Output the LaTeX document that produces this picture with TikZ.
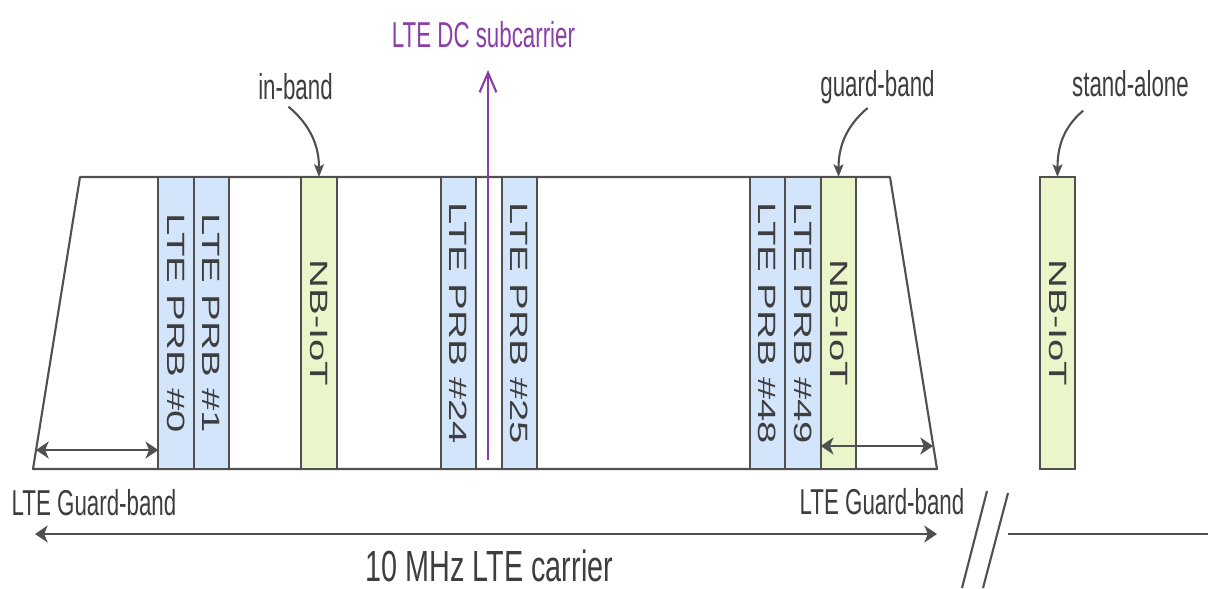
\documentclass[tikz,border=0pt]{standalone}
\usepackage{fontspec}
\setmainfont{Liberation Sans}
\usepackage{graphicx}
\usetikzlibrary{
  arrows.meta,
  positioning
}

\definecolor{linegray}{HTML}{505050}
\definecolor{textgray}{HTML}{3E3E3E}
\definecolor{prbblue}{HTML}{D3E5FB}
\definecolor{nbgreen}{HTML}{EAF6C9}
\definecolor{dcpurple}{HTML}{8A3FA8}

\newcommand{\vlbl}[1]{\rotatebox{-90}{\scalebox{1.6}[1]{#1}}}
\newcommand{\squeeze}[2][0.62]{\scalebox{#1}[1]{#2}}

\begin{document}
\begin{tikzpicture}[
  x=0.025cm,
  y=-0.025cm,
  band/.style={
    draw=linegray,
    line width=1.5pt,
    minimum width=0.8875cm,
    minimum height=7.3cm,
    inner sep=0pt,
    outer sep=0pt,
    text=textgray,
    font=\fontsize{17.8}{20}\selectfont
  },
  prb/.style={
    band,
    fill=prbblue
  },
  nbiot/.style={
    band,
    fill=nbgreen
  },
  lbl/.style={
    text=textgray,
    inner sep=0pt,
    anchor=base,
    font=\fontsize{25.6}{28}\selectfont
  },
  dimarrow/.style={
    {Stealth[length=9pt,width=12pt,inset=2.5pt]}-{Stealth[length=9pt,width=12pt,inset=2.5pt]},
    draw=linegray,
    line width=2pt
  },
  pointer/.style={
    -{Stealth[length=9pt,width=7pt,inset=2pt]},
    draw=linegray,
    line width=1.5pt
  },
  edge/.style={
    draw=linegray,
    line width=1.5pt
  }
]
\useasboundingbox (0,0) rectangle (1208,588);

\coordinate (tl) at (80,177);
\coordinate (tr) at (890,177);
\coordinate (br) at (937,469);
\coordinate (bl) at (33,469);
\draw[edge,line join=round] (tl) -- (tr) -- (br) -- (bl) -- cycle;

\node[prb] (prb0) at (176,323) {\vlbl{LTE PRB \#0}};
\node[prb,right=0pt of prb0] (prb1) {\vlbl{LTE PRB \#1}};
\node[nbiot] (inb) at (319,323) {\vlbl{NB-IoT}};
\node[prb] (prb24) at (458.5,323) {\vlbl{LTE PRB \#24}};
\node[prb] (prb25) at (519.5,323) {\vlbl{LTE PRB \#25}};
\node[prb] (prb48) at (767.5,323) {\vlbl{LTE PRB \#48}};
\node[prb,right=0pt of prb48] (prb49) {\vlbl{LTE PRB \#49}};
\node[nbiot,right=0pt of prb49] (gdb) {\vlbl{NB-IoT}};
\node[nbiot] (sab) at (1057.5,323) {\vlbl{NB-IoT}};

\coordinate (dcfoot) at (488,460);
\coordinate (dchead) at (488,70);
\draw[dcpurple,line width=1.5pt,-{Straight Barb[length=14pt,width=12pt]}]
  (dcfoot) -- (dchead);
\node[lbl,text=dcpurple] (dc) at (483.5,47) {\squeeze{LTE DC subcarrier}};

\node[lbl] (inband) at (295.5,99) {\squeeze{in-band}};
\node[lbl] (guard) at (877.5,96) {\squeeze{guard-band}};
\node[lbl] (alone) at (1130.5,96) {\squeeze{stand-alone}};

\draw[pointer] ([xshift=-5pt,yshift=-5pt]inband.south)
  to[out=-40,in=90] (inb.north);
\draw[pointer] ([xshift=-7pt,yshift=-3pt]guard.south)
  to[out=-140,in=90] (gdb.north);
\draw[pointer] ([xshift=8pt,yshift=-10pt]alone.south west)
  to[out=-140,in=90] (sab.north);

\coordinate (gbl) at (36,450);
\coordinate (gbr) at (933,446);
\draw[dimarrow] (gbl) -- (gbl -| prb0.west);
\draw[dimarrow] (gdb.west |- gbr) -- (gbr);
\node[lbl] (gbandl) at (94,515) {\squeeze{LTE Guard-band}};
\node[lbl] (gbandr) at (882,514) {\squeeze{LTE Guard-band}};

\coordinate (cl) at (35,534);
\coordinate (cr) at (937,534);
\draw[dimarrow] (cl) -- (cr);
\node[lbl,font=\fontsize{31}{34}\selectfont] (carrier) at (489.5,581)
  {\squeeze[0.66]{10 MHz LTE carrier}};

\draw[edge] (987,491) -- (962,588);
\draw[edge] (1008,493) -- (983,588);
\draw[draw=linegray,line width=2pt] (1008,534) -- (1208,534);

\end{tikzpicture}
\end{document}
